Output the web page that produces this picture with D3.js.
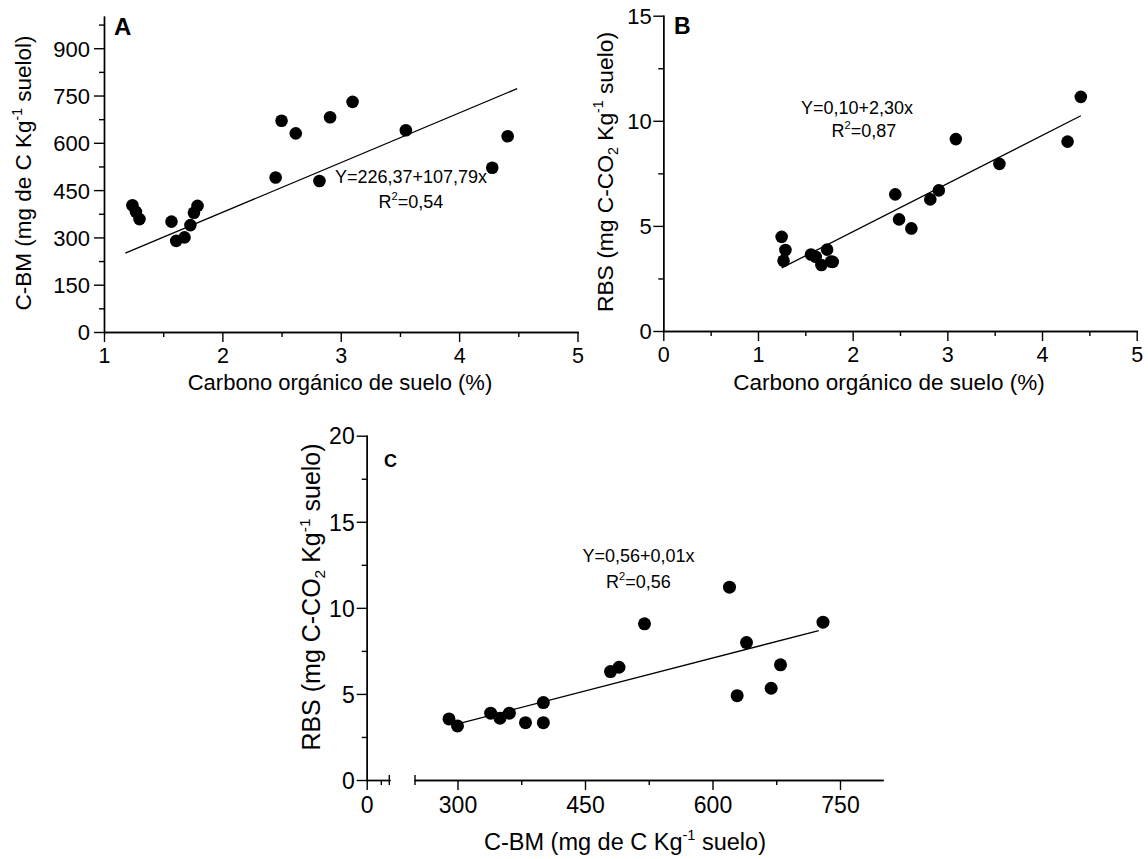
<!DOCTYPE html>
<html>
<head>
<meta charset="utf-8">
<script src="https://cdn.jsdelivr.net/npm/d3@7"></script>
<style>
  body { margin: 0; background: #fff; }
  svg { display: block; font-family: "Liberation Sans", Arial, sans-serif; }
</style>
</head>
<body>
<svg id="fig" width="1148" height="859"></svg>
<script>
// ---- Panel A: soil organic carbon (%) vs microbial biomass carbon ----
const socA = [1.24, 1.27, 1.30, 1.57, 1.61, 1.68, 1.73, 1.76, 1.79, 2.45, 2.50, 2.62, 2.82, 2.91, 3.10, 3.55, 4.28, 4.41];
const cbmA = [402, 381, 358, 350, 289, 300, 339, 378, 400, 490, 670, 630, 479, 681, 730, 640, 521, 621];
const fitAx = [1.18, 4.49];
const fitAy = [250, 772];
const eqA = ["Y=226,37+107,79x", "0,54"];
const xTicksA = [1, 2, 3, 4, 5];
const yTicksA = [0, 150, 300, 450, 600, 750, 900];

// ---- Panel B: soil organic carbon (%) vs basal soil respiration ----
const socB = [1.25, 1.29, 1.27, 1.56, 1.61, 1.67, 1.73, 1.77, 1.79, 2.45, 2.49, 2.62, 2.82, 2.91, 3.09, 3.55, 4.27, 4.41];
const rbsB = [4.48, 3.85, 3.34, 3.64, 3.53, 3.14, 3.87, 3.30, 3.29, 6.50, 5.31, 4.88, 6.26, 6.69, 9.13, 7.95, 9.01, 11.14];
const fitBx = [1.25, 4.41];
const fitBy = [3.00, 10.24];
const eqB = ["Y=0,10+2,30x", "0,87"];
const xTicksB = [0, 1, 2, 3, 4, 5];
const yTicksB = [0, 5, 10, 15];

// ---- Panel C: microbial biomass carbon vs basal soil respiration ----
const cbmC = [290, 300, 339, 350, 361, 380, 401, 401, 480, 490, 520, 620, 629, 640, 669, 680, 730];
const rbsC = [3.55, 3.14, 3.88, 3.59, 3.88, 3.33, 4.50, 3.33, 6.30, 6.55, 9.07, 11.20, 4.90, 7.98, 5.33, 6.69, 9.17];
const fitCx = [306, 725];
const fitCy = [3.33, 8.68];
const eqC = ["Y=0,56+0,01x", "0,56"];
const xTicksC = [300, 450, 600, 750];
const yTicksC = [0, 5, 10, 15, 20];

const svg = d3.select("#fig");
svg.append("rect").attr("width", 1148).attr("height", 859).attr("fill", "#fff");

const AXIS_W = 1.4;

function styleAxis(g) {
  g.selectAll("path, line").attr("stroke", "#000").attr("stroke-width", AXIS_W);
  g.select(".domain").attr("stroke-linecap", "square");
}

// Writes a line of text made of normal / superscript / subscript runs.
function richText(sel, parts, size) {
  const small = size * 0.62;
  parts.forEach(p => {
    const t = sel.append("tspan").text(p.t);
    if (p.sup) {
      t.attr("font-size", small).attr("dy", -size * 0.42);
      p._shift = size * 0.42;
    } else if (p.sub) {
      t.attr("font-size", small).attr("dy", size * 0.2);
      p._shift = -size * 0.2;
    }
  });
  // restore baseline after each raised/lowered run
  const spans = sel.selectAll("tspan").nodes();
  parts.forEach((p, i) => {
    if (p._shift && spans[i + 1]) {
      d3.select(spans[i + 1]).attr("dy", p._shift);
    }
  });
  return sel;
}

function yTitle(x, y, parts, size) {
  const t = svg.append("text")
    .attr("transform", `translate(${x},${y}) rotate(-90)`)
    .attr("text-anchor", "middle")
    .attr("font-size", size)
    .attr("fill", "#000");
  richText(t, parts, size);
}

function xTitle(x, y, parts, size) {
  const t = svg.append("text")
    .attr("x", x).attr("y", y)
    .attr("text-anchor", "middle")
    .attr("font-size", size)
    .attr("fill", "#000");
  richText(t, parts, size);
}

function equation(x1, y1, x2, y2, eq, size) {
  svg.append("text").attr("x", x1).attr("y", y1)
    .attr("text-anchor", "middle").attr("font-size", size).attr("fill", "#000")
    .text(eq[0]);
  const t = svg.append("text").attr("x", x2).attr("y", y2)
    .attr("text-anchor", "middle").attr("font-size", size).attr("fill", "#000");
  richText(t, [{ t: "R" }, { t: "2", sup: true }, { t: "=" + eq[1] }], size);
}

function panelLetter(x, y, letter, size) {
  svg.append("text").attr("x", x).attr("y", y)
    .attr("font-size", size).attr("font-weight", "bold").attr("fill", "#000")
    .text(letter);
}

function bottomAxis(scale, y, ticks, minor, fontSize, labelY) {
  const gMinor = svg.append("g").attr("transform", `translate(0,${y})`)
    .call(d3.axisBottom(scale).tickValues(minor).tickSize(5).tickSizeOuter(0).tickFormat(""));
  styleAxis(gMinor);
  const g = svg.append("g").attr("transform", `translate(0,${y})`)
    .call(d3.axisBottom(scale).tickValues(ticks).tickSize(10).tickSizeOuter(0).tickFormat(d3.format("d")));
  styleAxis(g);
  g.selectAll("text").attr("y", labelY).attr("dy", 0)
    .attr("font-size", fontSize).attr("font-family", null).attr("fill", "#000");
  return g;
}

function leftAxis(scale, x, ticks, minor, fontSize, labelX) {
  const gMinor = svg.append("g").attr("transform", `translate(${x},0)`)
    .call(d3.axisLeft(scale).tickValues(minor).tickSize(5).tickSizeOuter(0).tickFormat(""));
  styleAxis(gMinor);
  const g = svg.append("g").attr("transform", `translate(${x},0)`)
    .call(d3.axisLeft(scale).tickValues(ticks).tickSize(10).tickSizeOuter(0).tickFormat(d3.format("d")));
  styleAxis(g);
  g.selectAll("text").attr("x", labelX).attr("dy", "0.36em")
    .attr("font-size", fontSize).attr("font-family", null).attr("fill", "#000");
  return g;
}

function scatter(xs, ys, sx, sy, r) {
  svg.append("g").selectAll("circle")
    .data(xs.map((v, i) => [v, ys[i]]))
    .join("circle")
    .attr("cx", d => sx(d[0]))
    .attr("cy", d => sy(d[1]))
    .attr("r", r)
    .attr("fill", "#000");
}

function fitLine(fx, fy, sx, sy) {
  svg.append("path")
    .datum(fx.map((v, i) => [v, fy[i]]))
    .attr("d", d3.line().x(d => sx(d[0])).y(d => sy(d[1])))
    .attr("fill", "none").attr("stroke", "#000").attr("stroke-width", 1.3);
}

// ===== Panel A =====
{
  const x = d3.scaleLinear().domain([1, 5]).range([104, 577.5]);
  const y = d3.scaleLinear().domain([0, 1000]).range([332, 16.7]);
  fitLine(fitAx, fitAy, x, y);
  scatter(socA, cbmA, x, y, 6.3);
  bottomAxis(x, 332, xTicksA, d3.range(1.5, 5, 1), 21.5, 31);
  leftAxis(y, 104, yTicksA, d3.range(75, 1000, 150), 22, -14);
  xTitle(340, 390, [{ t: "Carbono orgánico de suelo (%)" }], 22);
  yTitle(31, 173, [{ t: "C-BM (mg de C Kg" }, { t: "-1", sup: true }, { t: "  suelol)" }], 22.5);
  equation(411, 183, 411, 208, eqA, 18);
  panelLetter(114, 35, "A", 24);
}

// ===== Panel B =====
{
  const x = d3.scaleLinear().domain([0, 5]).range([663.3, 1136.7]);
  const y = d3.scaleLinear().domain([0, 15]).range([331, 15.7]);
  fitLine(fitBx, fitBy, x, y);
  scatter(socB, rbsB, x, y, 6.3);
  bottomAxis(x, 331, xTicksB, d3.range(0.5, 5, 1), 21.5, 31);
  leftAxis(y, 663.3, yTicksB, [2.5, 7.5, 12.5], 22, -11.5);
  xTitle(889, 390, [{ t: "Carbono orgánico de suelo (%)" }], 22.5);
  yTitle(613, 172, [{ t: "RBS (mg C-CO" }, { t: "2", sub: true }, { t: " Kg" }, { t: "-1", sup: true }, { t: " suelo)" }], 22.8);
  equation(857, 114, 864, 137, eqB, 18);
  panelLetter(674, 33.5, "B", 23);
}

// ===== Panel C (broken x axis) =====
{
  const y = d3.scaleLinear().domain([0, 20]).range([780, 435.7]);
  const xLow = d3.scaleLinear().domain([0, 40]).range([366.7, 389.3]);
  const x = d3.scaleLinear().domain([250, 800]).range([415, 882.5]);
  fitLine(fitCx, fitCy, x, y);
  scatter(cbmC, rbsC, x, y, 6.5);

  // short segment before the break
  const gLowMinor = svg.append("g").attr("transform", "translate(0,780)")
    .call(d3.axisBottom(xLow).tickValues([25]).tickSize(5).tickSizeOuter(0).tickFormat(""));
  styleAxis(gLowMinor);
  const gLow = svg.append("g").attr("transform", "translate(0,780)")
    .call(d3.axisBottom(xLow).tickValues([0]).tickSize(10).tickSizeOuter(0).tickFormat(d3.format("d")));
  styleAxis(gLow);
  gLow.selectAll("text").attr("y", 33).attr("dy", 0).attr("font-size", 23).attr("font-family", null).attr("fill", "#000");

  // main segment after the break
  bottomAxis(x, 780, xTicksC, [375, 525, 675], 23, 33);

  // break caps
  [xLow(40), x(250)].forEach(bx => {
    svg.append("line").attr("x1", bx).attr("x2", bx).attr("y1", 775).attr("y2", 785)
      .attr("stroke", "#000").attr("stroke-width", AXIS_W);
  });

  leftAxis(y, 366.7, yTicksC, [2.5, 7.5, 12.5, 17.5], 23, -12);
  xTitle(625, 850, [{ t: "C-BM (mg de C Kg" }, { t: "-1", sup: true }, { t: "  suelo)" }], 23.5);
  yTitle(320, 597, [{ t: "RBS (mg C-CO" }, { t: "2", sub: true }, { t: " Kg" }, { t: "-1", sup: true }, { t: " suelo)" }], 25);
  equation(638.5, 562, 638.5, 588, eqC, 18);
  panelLetter(384, 467, "C", 18);
}
</script>
</body>
</html>
